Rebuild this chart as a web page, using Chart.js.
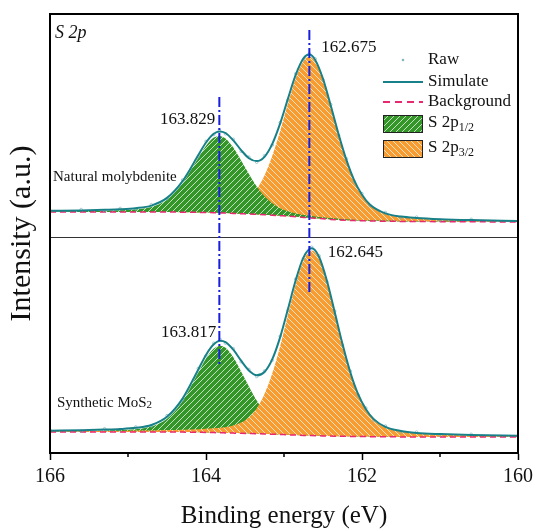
<!DOCTYPE html>
<html>
<head>
<meta charset="utf-8">
<script src="https://cdn.jsdelivr.net/npm/chart.js@4"></script>
<style>
    body { margin: 0; background: #fff; }
    canvas { display: block; }
</style>
</head>
<body>
<canvas id="xps-chart" width="540" height="531"></canvas>
<script>
// S 2p spectra: natural molybdenite (upper trace) and synthetic MoS2 (lower trace)
// intensities in arbitrary units, upper trace lifted by TOP_SHIFT

const TOP_E = [166.0, 165.6, 165.3, 165.1, 164.9, 164.7, 164.5, 164.3, 164.1, 164.0, 163.9, 163.829,
    163.75, 163.65, 163.55, 163.45, 163.35, 163.25, 163.15, 163.05, 162.95, 162.85, 162.75, 162.675,
    162.6, 162.5, 162.4, 162.3, 162.2, 162.1, 162.0, 161.9, 161.7, 161.5, 161.3, 161.0, 160.6, 160.0]
const TOP_BG = [21, 21, 21, 21, 21, 21, 21, 20.8, 20.6, 20.5, 20.3, 20.1,
    19.9, 19.6, 19.3, 19.0, 18.6, 18.2, 17.8, 17.3, 16.8, 16.2, 15.6, 15.2,
    14.8, 14.2, 13.6, 13.1, 12.7, 12.4, 12.2, 12.0, 11.8, 11.6, 11.5, 11.3, 11.2, 11.0]
const TOP_S2P12 = [21.6, 21.9, 22.3, 22.7, 23.6, 26.0, 33.3, 49.7, 74.9, 87.2, 95.4, 97.1,
    94.6, 85.4, 72.5, 58.9, 46.6, 36.8, 29.7, 24.8, 21.7, 19.6, 18.1, 17.4,
    16.6, 15.7, 14.9, 14.3, 13.7, 13.3, 13.0, 12.7, 12.4, 12.1, 12.0, 11.7, 11.5, 11.3]
const TOP_S2P32 = [21.6, 21.7, 21.9, 22.0, 22.2, 22.4, 22.8, 23.0, 23.4, 23.8, 24.2, 24.6,
    25.3, 26.8, 29.7, 34.9, 43.9, 57.6, 77.2, 101.8, 129.2, 154.7, 172.1, 176.2,
    171.3, 152.7, 126.0, 97.6, 72.1, 51.8, 37.5, 27.9, 19.0, 15.9, 14.5, 13.4, 12.6, 11.8]
const TOP_SIM = [22.2, 22.6, 23.2, 23.7, 24.8, 27.4, 35.1, 51.9, 77.7, 90.5, 99.3, 101.6,
    100.0, 92.6, 82.9, 74.8, 71.9, 76.2, 89.1, 109.3, 134.1, 158.1, 174.6, 178.4,
    173.1, 154.2, 127.3, 98.8, 73.1, 52.7, 38.3, 28.6, 19.6, 16.4, 15.0, 13.8, 12.9, 12.1]
const TOP_RAW = [21.4, 23.5, 22.1, 24.6, 24.0, 28.3, 34.2, 53.0, 76.5, 91.6, 98.4, 102.8,
    99.1, 93.7, 81.8, 75.9, 70.8, 77.3, 88.0, 110.4, 133.0, 159.3, 173.5, 179.3,
    174.2, 153.1, 128.4, 97.6, 74.2, 51.6, 39.4, 27.5, 20.5, 15.5, 15.9, 12.9, 13.7, 11.4]

const BOT_E = [166.0, 165.6, 165.3, 165.1, 164.9, 164.7, 164.5, 164.3, 164.1, 164.0, 163.9, 163.817,
    163.75, 163.65, 163.55, 163.45, 163.35, 163.25, 163.15, 163.05, 162.95, 162.85, 162.75, 162.645,
    162.55, 162.45, 162.35, 162.25, 162.15, 162.05, 161.95, 161.85, 161.7, 161.5, 161.3, 161.0, 160.6, 160.0]
const BOT_BG = [21, 21, 21, 21, 21, 21, 21, 20.9, 20.7, 20.6, 20.4, 20.3,
    20.1, 19.9, 19.7, 19.5, 19.3, 19.0, 18.8, 18.5, 18.2, 17.9, 17.6, 17.4,
    17.2, 17.0, 16.8, 16.7, 16.6, 16.5, 16.4, 16.3, 16.2, 16.1, 16.0, 16.0, 16.0, 16.0]
const BOT_S2P12 = [21.7, 22.0, 22.4, 22.9, 23.8, 26.4, 34.2, 52.0, 80.2, 94.5, 104.4, 107.3,
    105.2, 95.8, 81.6, 66.4, 52.4, 41.0, 32.9, 27.5, 24.0, 21.9, 20.6, 19.7,
    19.1, 18.7, 18.2, 18.0, 17.7, 17.5, 17.3, 17.1, 16.9, 16.7, 16.5, 16.4, 16.3, 16.2]
const BOT_S2P32 = [21.6, 21.8, 22.0, 22.1, 22.4, 22.6, 23.0, 23.3, 23.8, 24.2, 24.7, 25.3,
    25.8, 27.4, 30.4, 35.6, 44.6, 59.0, 79.7, 106.6, 137.9, 168.7, 192.6, 202.4,
    194.1, 170.6, 139.5, 107.7, 79.7, 57.9, 42.9, 33.1, 25.4, 21.4, 19.6, 18.5, 17.6, 17.0]
const BOT_SIM = [22.3, 22.8, 23.4, 24.0, 25.2, 28.0, 36.2, 54.4, 83.3, 98.1, 108.7, 112.3,
    110.9, 103.3, 92.3, 82.5, 77.7, 81.0, 93.8, 115.6, 143.7, 172.7, 195.6, 204.7,
    196.0, 172.3, 140.9, 109.0, 80.8, 58.9, 43.8, 33.9, 26.1, 22.0, 20.1, 18.9, 17.9, 17.2]
const BOT_RAW = [23.1, 21.9, 24.3, 23.1, 26.1, 27.0, 37.3, 53.2, 84.5, 97.0, 109.8, 113.5,
    109.8, 104.4, 91.2, 83.6, 76.5, 82.1, 92.7, 116.8, 142.5, 173.9, 194.4, 205.8,
    197.1, 171.1, 142.0, 107.9, 81.9, 57.8, 44.9, 32.8, 27.0, 21.1, 20.9, 18.0, 18.7, 16.5]

// fitted peak positions (eV)
const TOP_PEAK_12 = 163.829
const TOP_PEAK_32 = 162.675
const BOT_PEAK_12 = 163.817
const BOT_PEAK_32 = 162.645

const TOP_SHIFT = 220
const PANEL_SPLIT = 216
// vertical extent of the two guide lines [start, end]
const GUIDE_12 = [356, 88]
const GUIDE_32 = [423, 161]
const MINOR_TICKS = [165, 163, 161]

const SERIF = "'Liberation Serif', 'Times New Roman', serif"
const TEAL = "rgb(24, 128, 136)"
const PINK = "rgb(232, 40, 112)"
const BLUE = "rgb(24, 32, 220)"

// solid fill crossed by thin white diagonals
const patCtx = document.createElement("canvas").getContext("2d")
function makePattern(base, rising) {
    const c = document.createElement("canvas")
    c.width = c.height = 6
    const g = c.getContext("2d")
    g.fillStyle = base
    g.fillRect(0, 0, 6, 6)
    g.strokeStyle = "rgba(255, 255, 255, 0.7)"
    g.lineWidth = 1
    g.beginPath()
    if (rising) {
        g.moveTo(-1, 7); g.lineTo(7, -1)
        g.moveTo(-1, 1); g.lineTo(1, -1)
        g.moveTo(5, 7); g.lineTo(7, 5)
    } else {
        g.moveTo(-1, -1); g.lineTo(7, 7)
        g.moveTo(5, -1); g.lineTo(7, 1)
        g.moveTo(-1, 5); g.lineTo(1, 7)
    }
    g.stroke()
    return patCtx.createPattern(c, "repeat")
}

const greenFill = makePattern("rgb(52, 150, 40)", true)
const orangeFill = makePattern("rgb(246, 156, 48)", false)

function points(energies, values, shift) {
    return energies.map((e, i) => ({ x: e, y: values[i] + shift }))
}

function curve(data, extra) {
    return Object.assign({
        data: data,
        borderWidth: 0,
        pointRadius: 0,
        cubicInterpolationMode: "monotone",
        fill: false,
    }, extra)
}

const datasets = [
    // 0..4 upper trace
    curve(points(TOP_E, TOP_BG, TOP_SHIFT), { label: "Background", borderColor: PINK, borderWidth: 1.5, borderDash: [6, 4], order: 1 }),
    curve(points(TOP_E, TOP_S2P12, TOP_SHIFT), { label: "S 2p1/2", backgroundColor: greenFill, fill: { target: 0 }, order: 2 }),
    curve(points(TOP_E, TOP_S2P32, TOP_SHIFT), { label: "S 2p3/2", backgroundColor: orangeFill, fill: { target: 0 }, order: 2 }),
    curve(points(TOP_E, TOP_SIM, TOP_SHIFT), { label: "Simulate", borderColor: TEAL, borderWidth: 2, order: -1 }),
    curve(points(TOP_E, TOP_RAW, TOP_SHIFT), { label: "Raw", showLine: false, pointRadius: 1.3, borderWidth: 0.8,
        pointBorderColor: "rgba(120, 175, 185, 0.8)", pointBackgroundColor: "rgba(255,255,255,0)", order: 0 }),
    // 5..9 lower trace
    curve(points(BOT_E, BOT_BG, 0), { label: "Background", borderColor: PINK, borderWidth: 1.5, borderDash: [6, 4], order: 1 }),
    curve(points(BOT_E, BOT_S2P32, 0), { label: "S 2p3/2", backgroundColor: orangeFill, fill: { target: 5 }, order: 2 }),
    curve(points(BOT_E, BOT_S2P12, 0), { label: "S 2p1/2", backgroundColor: greenFill, fill: { target: 5 }, order: 2 }),
    curve(points(BOT_E, BOT_SIM, 0), { label: "Simulate", borderColor: TEAL, borderWidth: 2, order: -1 }),
    curve(points(BOT_E, BOT_RAW, 0), { label: "Raw", showLine: false, pointRadius: 1.3, borderWidth: 0.8,
        pointBorderColor: "rgba(120, 175, 185, 0.8)", pointBackgroundColor: "rgba(255,255,255,0)", order: 0 }),
    // peak guides
    curve([{ x: TOP_PEAK_12, y: GUIDE_12[0] }, { x: TOP_PEAK_12, y: GUIDE_12[1] }],
        { borderColor: BLUE, borderWidth: 2, borderDash: [10, 3, 2, 3], cubicInterpolationMode: "default", order: -2 }),
    curve([{ x: TOP_PEAK_32, y: GUIDE_32[0] }, { x: TOP_PEAK_32, y: GUIDE_32[1] }],
        { borderColor: BLUE, borderWidth: 2, borderDash: [10, 3, 2, 3], cubicInterpolationMode: "default", order: -2 }),
]

function text(ctx, str, x, y, size, align, style) {
    ctx.font = (style || "") + " " + size + "px " + SERIF
    ctx.textAlign = align || "left"
    ctx.textBaseline = "middle"
    ctx.fillStyle = "#111"
    ctx.fillText(str, x, y)
}

// text followed by a smaller lowered part, e.g. S 2p + 1/2
function textSub(ctx, main, sub, x, y, size, subSize, drop) {
    text(ctx, main, x, y, size)
    const w = ctx.measureText(main).width
    text(ctx, sub, x + w, y + drop, subSize)
}

const decor = {
    id: "decor",
    beforeDraw(chart) {
        const ctx = chart.ctx
        ctx.save()
        ctx.fillStyle = "#fff"
        ctx.fillRect(0, 0, chart.width, chart.height)
        ctx.restore()
    },
    beforeDatasetsDraw(chart) {
        const { ctx, chartArea, scales } = chart
        const y = Math.round(scales.y.getPixelForValue(PANEL_SPLIT)) + 0.5
        ctx.save()
        ctx.strokeStyle = "#333"
        ctx.lineWidth = 1
        ctx.beginPath()
        ctx.moveTo(chartArea.left, y)
        ctx.lineTo(chartArea.right, y)
        ctx.stroke()
        ctx.restore()
    },
    afterDraw(chart) {
        const { ctx, chartArea, scales } = chart
        const x = scales.x
        ctx.save()

        // frame
        ctx.strokeStyle = "#000"
        ctx.lineWidth = 2
        ctx.strokeRect(chartArea.left, chartArea.top, chartArea.right - chartArea.left, chartArea.bottom - chartArea.top)

        // minor ticks
        ctx.lineWidth = 1.5
        ctx.beginPath()
        MINOR_TICKS.forEach((v) => {
            const px = x.getPixelForValue(v)
            ctx.moveTo(px, chartArea.bottom)
            ctx.lineTo(px, chartArea.bottom + 4)
        })
        ctx.stroke()

        text(ctx, "S 2p", chartArea.left + 5, chartArea.top + 19, 18, "left", "italic")
        text(ctx, "Natural molybdenite", chartArea.left + 3, 177, 15)
        textSub(ctx, "Synthetic MoS", "2", chartArea.left + 7, 403, 15, 11, 2)

        // peak positions
        text(ctx, TOP_PEAK_12.toFixed(3), x.getPixelForValue(TOP_PEAK_12) - 4, 120, 17, "right")
        text(ctx, TOP_PEAK_32.toFixed(3), x.getPixelForValue(TOP_PEAK_32) + 12, 48, 17, "left")
        text(ctx, BOT_PEAK_12.toFixed(3), x.getPixelForValue(BOT_PEAK_12) - 4, 333, 17, "right")
        text(ctx, BOT_PEAK_32.toFixed(3), x.getPixelForValue(BOT_PEAK_32) + 16, 253, 17, "left")

        // legend
        const lx = 383, tx = 428
        ctx.fillStyle = "rgba(120, 175, 185, 0.9)"
        ctx.beginPath()
        ctx.arc(403, 60, 1.3, 0, Math.PI * 2)
        ctx.fill()
        text(ctx, "Raw", tx, 60, 17)

        ctx.strokeStyle = TEAL
        ctx.lineWidth = 2
        ctx.beginPath(); ctx.moveTo(lx, 82); ctx.lineTo(lx + 40, 82); ctx.stroke()
        text(ctx, "Simulate", tx, 82, 17)

        ctx.strokeStyle = PINK
        ctx.setLineDash([7, 5])
        ctx.beginPath(); ctx.moveTo(lx, 102); ctx.lineTo(lx + 40, 102); ctx.stroke()
        ctx.setLineDash([])
        text(ctx, "Background", tx, 102, 17)

        ctx.lineWidth = 1
        ctx.strokeStyle = "#222"
        ctx.fillStyle = greenFill
        ctx.fillRect(lx, 115, 40, 18)
        ctx.strokeRect(lx + 0.5, 115.5, 39, 17)
        textSub(ctx, "S 2p", "1/2", tx, 123, 17, 12, 5)

        ctx.fillStyle = orangeFill
        ctx.fillRect(lx, 140, 40, 18)
        ctx.strokeRect(lx + 0.5, 140.5, 39, 17)
        textSub(ctx, "S 2p", "3/2", tx, 148, 17, 12, 5)

        ctx.restore()
    },
}

new Chart(document.getElementById("xps-chart"), {
    type: "line",
    data: { datasets: datasets },
    options: {
        responsive: false,
        animation: false,
        devicePixelRatio: 1,
        layout: { padding: { left: 4, right: 22, top: 14, bottom: 0 } },
        plugins: {
            legend: { display: false },
            tooltip: { enabled: false },
        },
        scales: {
            x: {
                type: "linear",
                min: 160,
                max: 166,
                reverse: true,
                ticks: { stepSize: 2, color: "#111", font: { family: SERIF, size: 20 }, padding: 5 },
                grid: { drawOnChartArea: false, tickLength: 7, tickColor: "#000", tickWidth: 1.5 },
                border: { color: "#000", width: 2 },
                title: { display: true, text: "Binding energy (eV)", color: "#111",
                    font: { family: SERIF, size: 25 }, padding: { bottom: 0 } },
                afterFit: (s) => { s.height = 78 },
            },
            y: {
                min: 0,
                max: 439,
                ticks: { display: false },
                grid: { display: false },
                border: { display: false },
                title: { display: true, text: "Intensity (a.u.)", color: "#111",
                    font: { family: SERIF, size: 30 }, padding: 0 },
                afterFit: (s) => { s.width = 46 },
            },
        },
    },
    plugins: [decor],
})
</script>
</body>
</html>
